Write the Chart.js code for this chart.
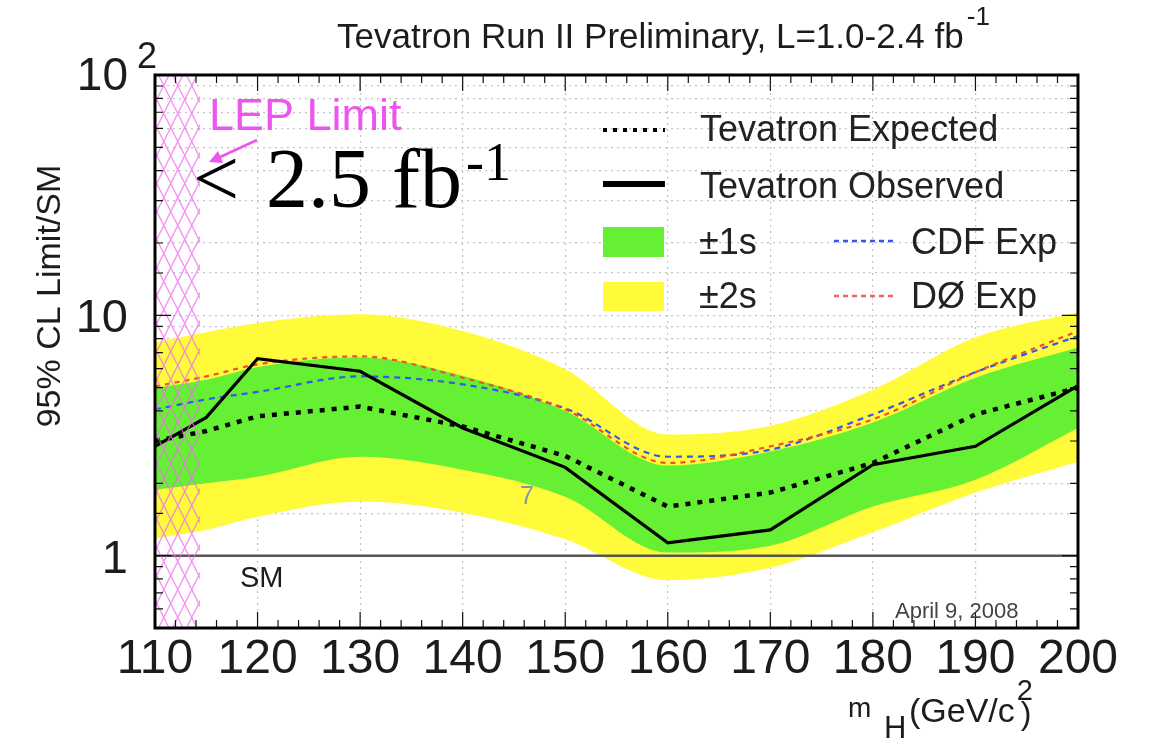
<!DOCTYPE html>
<html>
<head>
<meta charset="utf-8">
<script src="https://cdn.jsdelivr.net/npm/chart.js@4.4.1/dist/chart.umd.min.js"></script>
<style>
  html, body { margin: 0; padding: 0; background: #fff; }
</style>
</head>
<body>
<canvas id="graficoLimite" width="1149" height="746"></canvas>
<script>
// Massas do Higgs (GeV/c2), eixo X
var massas = [110, 115, 120, 130, 140, 150, 160, 170, 180, 190, 200];

// Limites 95% CL / SM do Tevatron
var observado = [2.85, 3.76, 6.6, 5.85, 3.4, 2.33, 1.13, 1.28, 2.39, 2.85, 5.1];
var esperado = [3.0, 3.3, 3.8, 4.17, 3.45, 2.6, 1.6, 1.83, 2.43, 3.87, 5.0];

// Bandas de +-1 sigma e +-2 sigma em torno do esperado
var umSigmaSup = [5.0, 5.4, 6.1, 6.7, 5.6, 4.0, 2.37, 2.71, 3.58, 5.5, 7.35];
var umSigmaInf = [1.88, 2.0, 2.13, 2.58, 2.28, 1.76, 1.03, 1.1, 1.6, 2.07, 3.4];
var doisSigmaSup = [7.7, 8.5, 9.3, 10.1, 8.6, 5.96, 3.19, 3.47, 4.9, 8.1, 10.3];
var doisSigmaInf = [1.18, 1.28, 1.45, 1.68, 1.51, 1.17, 0.79, 0.89, 1.25, 1.83, 2.46];

// Esperado de cada experimento
var cdfEsperado = [4.06, 4.47, 4.8, 5.57, 5.16, 4.1, 2.58, 2.76, 3.87, 5.8, 8.2];
var d0Esperado = [5.06, 5.57, 6.25, 6.75, 5.5, 4.06, 2.43, 2.85, 3.69, 5.8, 8.6];

// Rotulos dos eixos
var rotulosX = [110, 120, 130, 140, 150, 160, 170, 180, 190, 200];
var rotulosY = [1, 10, 100];

// Limite do LEP (regiao hachurada) e linha do SM
var limiteLEP = 114.4;
var linhaSM = 1;

var corAmarelo = '#fffb3a';
var corVerde = '#66f034';
var corAzul = '#3557ee';
var corVermelho = '#f0502e';
var corRosa = '#ee55ee';
var corTexto = '#1c1c1c';

function pontos(valores) {
  return massas.map(function (m, i) { return { x: m, y: valores[i] }; });
}

function escreve(ctx, str, x, y, fonte, cor, alinh) {
  ctx.font = fonte;
  ctx.fillStyle = cor;
  ctx.textAlign = alinh || 'left';
  ctx.textBaseline = 'alphabetic';
  ctx.fillText(str, x, y);
  return ctx.measureText(str).width;
}

// Desenha hachura, moldura, ticks, rotulos, legenda e textos
var desenhoExtra = {
  id: 'desenhoExtra',
  afterDatasetsDraw: function (chart) {
    var ctx = chart.ctx;
    var area = chart.chartArea;
    var sx = chart.scales.x, sy = chart.scales.y;

    // linha do SM
    var ySM = sy.getPixelForValue(linhaSM);
    ctx.save();
    ctx.strokeStyle = '#555';
    ctx.lineWidth = 2.5;
    ctx.beginPath();
    ctx.moveTo(area.left, ySM);
    ctx.lineTo(area.right, ySM);
    ctx.stroke();
    ctx.restore();

    // hachura do LEP
    var x0 = sx.getPixelForValue(110), x1 = sx.getPixelForValue(limiteLEP);
    var h = area.bottom - area.top;
    var passo = 14, incl = 2.0;
    ctx.save();
    ctx.beginPath();
    ctx.rect(x0, area.top, x1 - x0, h);
    ctx.clip();
    ctx.strokeStyle = 'rgba(238,110,238,0.75)';
    ctx.lineWidth = 1.3;
    ctx.beginPath();
    for (var s = x0 - h / incl - passo; s < x1 + passo; s += passo) {
      ctx.moveTo(s, area.top);
      ctx.lineTo(s + h / incl, area.bottom);
      ctx.moveTo(s + h / incl, area.top);
      ctx.lineTo(s, area.bottom);
    }
    ctx.stroke();
    ctx.restore();
  },
  afterDraw: function (chart) {
    var ctx = chart.ctx;
    var area = chart.chartArea;
    var sx = chart.scales.x, sy = chart.scales.y;
    var i, px, py;

    ctx.save();
    // ticks do eixo X (embaixo e em cima)
    ctx.strokeStyle = '#111';
    ctx.lineWidth = 1.2;
    ctx.beginPath();
    for (i = 110; i <= 200; i += 2) {
      px = sx.getPixelForValue(i);
      var tam = (i % 10 === 0) ? 16 : 8;
      ctx.moveTo(px, area.bottom);
      ctx.lineTo(px, area.bottom - tam);
      ctx.moveTo(px, area.top);
      ctx.lineTo(px, area.top + tam);
    }
    // ticks do eixo Y (esquerda e direita)
    sy.ticks.forEach(function (t) {
      var py2 = sy.getPixelForValue(t.value);
      var maior = (t.value === 1 || t.value === 10 || t.value === 100);
      var tam2 = maior ? 16 : 8;
      ctx.moveTo(area.left, py2);
      ctx.lineTo(area.left + tam2, py2);
      ctx.moveTo(area.right, py2);
      ctx.lineTo(area.right - tam2, py2);
    });
    ctx.stroke();

    // moldura
    ctx.strokeStyle = '#000';
    ctx.lineWidth = 3;
    ctx.strokeRect(area.left, area.top, area.right - area.left, area.bottom - area.top);

    var fx = '"Liberation Sans", Arial, sans-serif';

    // rotulos do eixo X
    rotulosX.forEach(function (v) {
      escreve(ctx, String(v), sx.getPixelForValue(v), area.bottom + 45, '48px ' + fx, corTexto, 'center');
    });

    // rotulos do eixo Y
    rotulosY.forEach(function (v) {
      py = sy.getPixelForValue(v);
      if (v === 100) {
        escreve(ctx, '10', 128, py + 15, '46px ' + fx, corTexto, 'right');
        escreve(ctx, '2', 137, py - 7, '36px ' + fx, corTexto, 'left');
      } else {
        escreve(ctx, String(v), 128, py + 17, '47px ' + fx, corTexto, 'right');
      }
    });

    // titulo do eixo Y
    ctx.save();
    ctx.translate(60, 296);
    ctx.rotate(-Math.PI / 2);
    escreve(ctx, '95% CL Limit/SM', 0, 0, '34px ' + fx, corTexto, 'center');
    ctx.restore();

    // titulo do eixo X
    escreve(ctx, 'm', 848, 717, '28px ' + fx, corTexto);
    escreve(ctx, 'H', 884, 738, '31px ' + fx, corTexto);
    var lg = escreve(ctx, '(GeV/c', 909, 722, '34px ' + fx, corTexto);
    escreve(ctx, '2', 909 + lg + 2, 700, '29px ' + fx, corTexto);
    escreve(ctx, ')', 909 + lg + 6, 724, '32px ' + fx, corTexto);

    // titulo do grafico
    var lt = escreve(ctx, 'Tevatron Run II Preliminary, L=1.0-2.4 fb', 337, 48, '35px ' + fx, corTexto);
    escreve(ctx, '-1', 337 + lt + 3, 25, '26px ' + fx, corTexto);

    // textos dentro do grafico
    escreve(ctx, 'SM', 240, 587, '29px ' + fx, corTexto);
    escreve(ctx, 'April 9, 2008', 895, 618, '22px ' + fx, '#444');
    escreve(ctx, '7', 520, 504, '25px ' + fx, '#8a93a5');

    // LEP Limit e seta
    escreve(ctx, 'LEP Limit', 209, 130, '45px ' + fx, corRosa);
    ctx.strokeStyle = corRosa;
    ctx.fillStyle = corRosa;
    ctx.lineWidth = 2.5;
    ctx.beginPath();
    ctx.moveTo(257, 140);
    ctx.lineTo(218, 158);
    ctx.stroke();
    ctx.beginPath();
    ctx.moveTo(209, 162);
    ctx.lineTo(218, 151);
    ctx.lineTo(223, 163);
    ctx.closePath();
    ctx.fill();

    // < 2.5 fb-1
    var fs = '"Liberation Serif", "Times New Roman", serif';
    escreve(ctx, '<', 193, 206, '82px ' + fs, '#000');
    var lf = escreve(ctx, '2.5 fb', 266, 207, '84px ' + fs, '#000');
    escreve(ctx, '-1', 266 + lf + 4, 180, '54px ' + fs, '#000');

    // legenda
    ctx.lineCap = 'butt';
    ctx.strokeStyle = '#000';
    ctx.lineWidth = 4;
    ctx.setLineDash([4, 6]);
    ctx.beginPath();
    ctx.moveTo(603, 130);
    ctx.lineTo(665, 130);
    ctx.stroke();
    ctx.setLineDash([]);
    ctx.lineWidth = 6;
    ctx.beginPath();
    ctx.moveTo(603, 184);
    ctx.lineTo(665, 184);
    ctx.stroke();

    ctx.fillStyle = corVerde;
    ctx.fillRect(603, 227, 61, 30);
    ctx.fillStyle = corAmarelo;
    ctx.fillRect(603, 282, 61, 29);

    ctx.lineWidth = 2.5;
    ctx.setLineDash([5, 4]);
    ctx.strokeStyle = corAzul;
    ctx.beginPath();
    ctx.moveTo(834, 241);
    ctx.lineTo(896, 241);
    ctx.stroke();
    ctx.strokeStyle = '#f26060';
    ctx.beginPath();
    ctx.moveTo(834, 296);
    ctx.lineTo(896, 296);
    ctx.stroke();
    ctx.setLineDash([]);

    var fl = '36px ' + fx;
    escreve(ctx, 'Tevatron Expected', 700, 141, fl, '#222');
    escreve(ctx, 'Tevatron Observed', 700, 198, fl, '#222');
    escreve(ctx, '\u00B11s', 699, 254, fl, '#222');
    escreve(ctx, '\u00B12s', 699, 308, fl, '#222');
    escreve(ctx, 'CDF Exp', 911, 254, fl, '#222');
    escreve(ctx, 'D\u00D8 Exp', 911, 308, fl, '#222');
    ctx.restore();
  }
};

var ctx = document.getElementById('graficoLimite').getContext('2d');
var chart = new Chart(ctx, {
  type: 'line',
  data: {
    datasets: [
      {
        label: '+2s',
        data: pontos(doisSigmaSup),
        backgroundColor: corAmarelo,
        borderWidth: 0,
        fill: '+1',
        cubicInterpolationMode: 'monotone',
        order: 8
      },
      {
        label: '-2s',
        data: pontos(doisSigmaInf),
        borderWidth: 0,
        fill: false,
        cubicInterpolationMode: 'monotone',
        order: 8
      },
      {
        label: '+1s',
        data: pontos(umSigmaSup),
        backgroundColor: corVerde,
        borderWidth: 0,
        fill: '+1',
        cubicInterpolationMode: 'monotone',
        order: 6
      },
      {
        label: '-1s',
        data: pontos(umSigmaInf),
        borderWidth: 0,
        fill: false,
        cubicInterpolationMode: 'monotone',
        order: 6
      },
      {
        label: 'CDF Exp',
        data: pontos(cdfEsperado),
        borderColor: corAzul,
        borderWidth: 2.2,
        borderDash: [6, 5],
        fill: false,
        cubicInterpolationMode: 'monotone',
        order: 4
      },
      {
        label: 'D\u00D8 Exp',
        data: pontos(d0Esperado),
        borderColor: corVermelho,
        borderWidth: 2.2,
        borderDash: [5, 5],
        fill: false,
        cubicInterpolationMode: 'monotone',
        order: 3
      },
      {
        label: 'Tevatron Expected',
        data: pontos(esperado),
        borderColor: '#000',
        borderWidth: 4.5,
        borderDash: [5, 7],
        fill: false,
        order: 2
      },
      {
        label: 'Tevatron Observed',
        data: pontos(observado),
        borderColor: '#000',
        borderWidth: 3.2,
        fill: false,
        order: 1
      }
    ]
  },
  options: {
    responsive: false,
    animation: false,
    devicePixelRatio: 1,
    layout: { padding: { left: 155, right: 71, top: 75, bottom: 118 } },
    elements: { point: { radius: 0 }, line: { tension: 0 } },
    plugins: {
      legend: { display: false },
      tooltip: { enabled: false }
    },
    scales: {
      x: {
        type: 'linear',
        min: 110,
        max: 200,
        ticks: { display: false, stepSize: 10 },
        grid: {
          drawTicks: false,
          lineWidth: 1.2,
          color: function (c) {
            return (c.tick && c.tick.value > 110 && c.tick.value < 200) ? '#c4c4c4' : 'rgba(0,0,0,0)';
          }
        },
        border: { display: false, dash: [2, 4] }
      },
      y: {
        type: 'logarithmic',
        min: 0.5,
        max: 100,
        ticks: { display: false },
        grid: {
          drawTicks: false,
          lineWidth: 1.2,
          color: function (c) {
            return (c.tick && c.tick.value > 1 && c.tick.value < 100) ? '#c4c4c4' : 'rgba(0,0,0,0)';
          }
        },
        border: { display: false, dash: [2, 4] }
      }
    }
  },
  plugins: [desenhoExtra]
});
</script>
</body>
</html>
